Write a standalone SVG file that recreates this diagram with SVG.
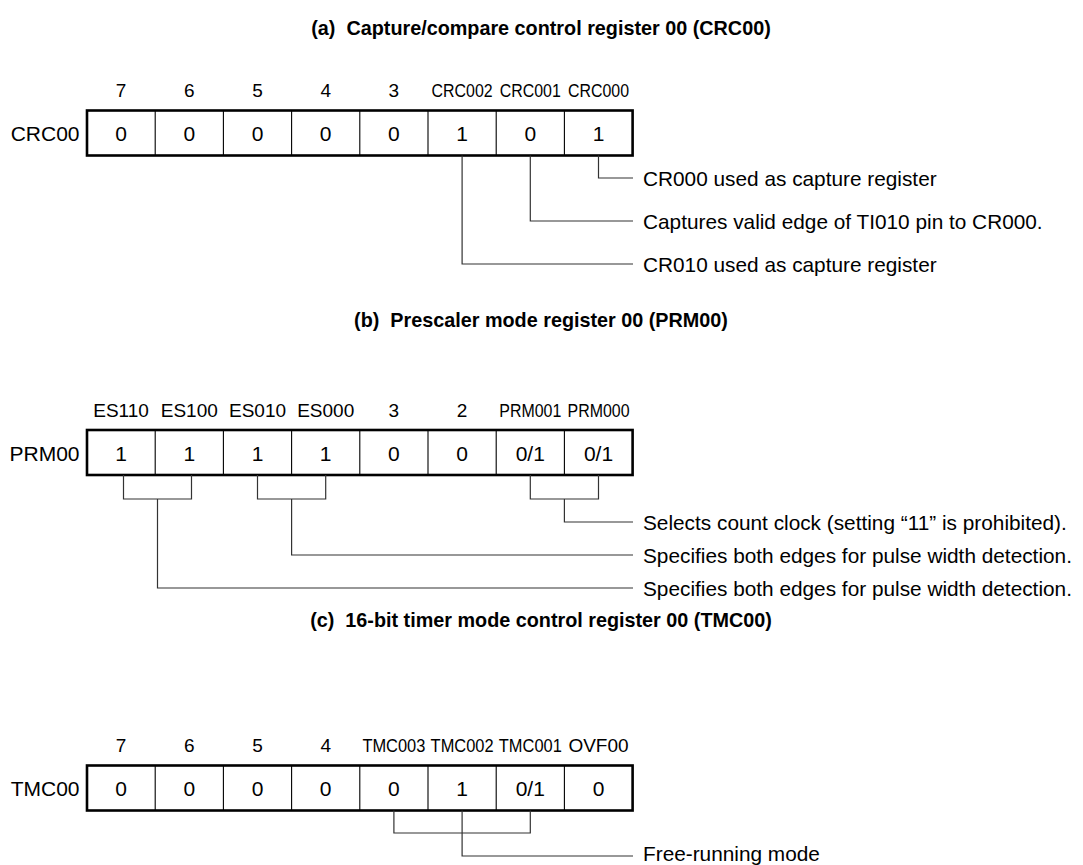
<svg xmlns="http://www.w3.org/2000/svg" width="1083" height="865" viewBox="0 0 1083 865">
<style>
.t{font-family:"Liberation Sans",Arial,Helvetica,sans-serif;fill:#000}
.title{font-size:19.8px;font-weight:bold;text-anchor:middle;white-space:pre}
.reg{font-size:21px;text-anchor:end}
.bit{font-size:19px;text-anchor:middle}
.val{font-size:21px;text-anchor:middle}
.desc{font-size:20.8px}
.box{fill:#fff;stroke:#000;stroke-width:2.6}
.div{stroke:#000;stroke-width:1.1}
.ln{fill:none;stroke:#333;stroke-width:1.2}
</style>
<rect width="1083" height="865" fill="#fff"/>

<text class="t title" x="541" y="35" xml:space="preserve">(a)  Capture/compare control register 00 (CRC00)</text>
<g id="crc00">
<text class="t reg" x="79.5" y="141">CRC00</text>
<text class="t bit" x="121.1" y="97">7</text>
<text class="t bit" x="189.3" y="97">6</text>
<text class="t bit" x="257.5" y="97">5</text>
<text class="t bit" x="325.7" y="97">4</text>
<text class="t bit" x="393.9" y="97">3</text>
<text class="t bit" x="462.1" y="97" textLength="61" lengthAdjust="spacingAndGlyphs">CRC002</text>
<text class="t bit" x="530.3" y="97" textLength="61" lengthAdjust="spacingAndGlyphs">CRC001</text>
<text class="t bit" x="598.5" y="97" textLength="61" lengthAdjust="spacingAndGlyphs">CRC000</text>
<rect class="box" x="87" y="110.5" width="545.6" height="45"/>
<path class="div" d="M155.2 110.5V155.5M223.4 110.5V155.5M291.6 110.5V155.5M359.8 110.5V155.5M428 110.5V155.5M496.2 110.5V155.5M564.4 110.5V155.5"/>
<text class="t val" x="121.1" y="141">0</text>
<text class="t val" x="189.3" y="141">0</text>
<text class="t val" x="257.5" y="141">0</text>
<text class="t val" x="325.7" y="141">0</text>
<text class="t val" x="393.9" y="141">0</text>
<text class="t val" x="462.1" y="141">1</text>
<text class="t val" x="530.3" y="141">0</text>
<text class="t val" x="598.5" y="141">1</text>
</g>
<g id="crc00-desc">
<text class="t desc" x="643" y="185.5">CR000 used as capture register</text>
<text class="t desc" x="643" y="228.5">Captures valid edge of TI010 pin to CR000.</text>
<text class="t desc" x="643" y="271.5">CR010 used as capture register</text>
</g>

<text class="t title" x="541" y="327" xml:space="preserve">(b)  Prescaler mode register 00 (PRM00)</text>
<g id="prm00">
<text class="t reg" x="79.5" y="461">PRM00</text>
<text class="t bit" x="121.1" y="417">ES110</text>
<text class="t bit" x="189.3" y="417">ES100</text>
<text class="t bit" x="257.5" y="417">ES010</text>
<text class="t bit" x="325.7" y="417">ES000</text>
<text class="t bit" x="393.9" y="417">3</text>
<text class="t bit" x="462.1" y="417">2</text>
<text class="t bit" x="530.3" y="417" textLength="62" lengthAdjust="spacingAndGlyphs">PRM001</text>
<text class="t bit" x="598.5" y="417" textLength="62" lengthAdjust="spacingAndGlyphs">PRM000</text>
<rect class="box" x="87" y="430" width="545.6" height="45"/>
<path class="div" d="M155.2 430V475M223.4 430V475M291.6 430V475M359.8 430V475M428 430V475M496.2 430V475M564.4 430V475"/>
<text class="t val" x="121.1" y="460.5">1</text>
<text class="t val" x="189.3" y="460.5">1</text>
<text class="t val" x="257.5" y="460.5">1</text>
<text class="t val" x="325.7" y="460.5">1</text>
<text class="t val" x="393.9" y="460.5">0</text>
<text class="t val" x="462.1" y="460.5">0</text>
<text class="t val" x="530.3" y="460.5">0/1</text>
<text class="t val" x="598.5" y="460.5">0/1</text>
</g>
<g id="prm00-desc">
<text class="t desc" x="643" y="529.5">Selects count clock (setting “11” is prohibited).</text>
<text class="t desc" x="643" y="562.5">Specifies both edges for pulse width detection.</text>
<text class="t desc" x="643" y="595.5">Specifies both edges for pulse width detection.</text>
</g>

<text class="t title" x="541" y="627" xml:space="preserve">(c)  16-bit timer mode control register 00 (TMC00)</text>
<g id="tmc00">
<text class="t reg" x="79.5" y="796">TMC00</text>
<text class="t bit" x="121.1" y="752">7</text>
<text class="t bit" x="189.3" y="752">6</text>
<text class="t bit" x="257.5" y="752">5</text>
<text class="t bit" x="325.7" y="752">4</text>
<text class="t bit" x="393.9" y="752" textLength="63" lengthAdjust="spacingAndGlyphs">TMC003</text>
<text class="t bit" x="462.1" y="752" textLength="63" lengthAdjust="spacingAndGlyphs">TMC002</text>
<text class="t bit" x="530.3" y="752" textLength="63" lengthAdjust="spacingAndGlyphs">TMC001</text>
<text class="t bit" x="598.5" y="752">OVF00</text>
<rect class="box" x="87" y="765.5" width="545.6" height="45"/>
<path class="div" d="M155.2 765.5V810.5M223.4 765.5V810.5M291.6 765.5V810.5M359.8 765.5V810.5M428 765.5V810.5M496.2 765.5V810.5M564.4 765.5V810.5"/>
<text class="t val" x="121.1" y="796">0</text>
<text class="t val" x="189.3" y="796">0</text>
<text class="t val" x="257.5" y="796">0</text>
<text class="t val" x="325.7" y="796">0</text>
<text class="t val" x="393.9" y="796">0</text>
<text class="t val" x="462.1" y="796">1</text>
<text class="t val" x="530.3" y="796">0/1</text>
<text class="t val" x="598.5" y="796">0</text>
</g>
<g id="tmc00-desc">
<text class="t desc" x="643" y="861">Free-running mode</text>
</g>

<g id="connectors">
<path class="ln" d="M598.5 155.5V178H633"/>
<path class="ln" d="M530.3 155.5V221H633"/>
<path class="ln" d="M462.1 155.5V264H633"/>
<path class="ln" d="M123.5 475V499H191.5V475"/>
<path class="ln" d="M257.5 475V499H325.7V475"/>
<path class="ln" d="M530.3 475V499H598.5V475"/>
<path class="ln" d="M564.4 499V522H633"/>
<path class="ln" d="M291.6 499V555H633"/>
<path class="ln" d="M157.5 499V588H633"/>
<path class="ln" d="M393.9 810.5V833H530.3V810.5"/>
<path class="ln" d="M462.1 810.5V856H633"/>
</g>
</svg>
